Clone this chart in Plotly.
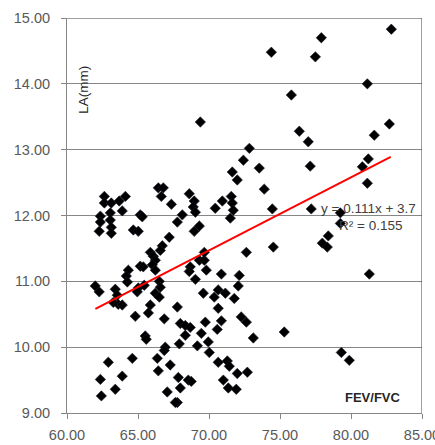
import plotly.graph_objects as go

# FEV/FVC (x) and LA(mm) (y) values
fev_fvc = [
    74.39, 77.91, 77.49, 82.84, 81.15, 75.80, 76.36, 76.99, 82.70, 81.64,
    69.39, 72.84, 72.42, 73.54, 71.64, 71.99, 77.13, 81.22, 80.80, 81.15,
    73.89, 71.57, 71.64, 71.71, 70.94, 70.44, 74.46, 77.20, 79.25, 71.50,
    79.25, 78.40, 77.98, 78.33, 74.53, 72.63, 70.87, 72.13, 81.29, 72.06,
    70.65, 71.15, 71.78, 70.37, 70.65, 72.27, 72.63, 70.87, 70.58, 75.30,
    73.12, 79.32, 79.88, 70.65, 71.29, 71.43, 71.99, 72.70, 71.01, 71.36,
    71.92,
    69.04, 69.60, 67.77, 69.74, 67.98, 68.33, 68.68, 68.33, 69.46, 69.95,
    67.91, 69.18, 70.02, 67.84, 68.54, 68.75, 67.98, 67.77, 69.32, 69.67,
    69.67, 68.68, 68.61, 69.81, 68.96, 69.32, 68.12, 67.77,
    62.63, 62.63, 63.12, 63.68, 64.11, 63.89, 62.35, 62.35, 62.27, 63.05,
    63.05, 63.12, 63.12, 65.16, 65.30, 64.67, 65.02, 66.43, 66.78, 66.64,
    67.35, 67.20, 66.71, 66.57, 65.87, 66.08, 66.22, 66.01, 66.22, 65.16,
    65.37, 64.32, 64.18, 64.25, 68.61, 68.96, 68.89, 69.04,
    61.99, 62.27, 63.40, 63.54, 63.26, 63.61, 63.89, 65.02, 64.95, 65.44,
    66.50, 66.57, 66.22, 66.50, 65.87, 65.73, 64.81, 66.85, 65.51, 65.58,
    66.92, 66.85, 62.91, 64.60, 66.36, 67.27, 66.43, 63.89, 62.35, 63.40,
    62.42, 67.06, 67.63,
]
la_mm = [
    14.48, 14.70, 14.41, 14.83, 14.00, 13.83, 13.28, 13.12, 13.39, 13.22,
    13.42, 13.02, 12.84, 12.72, 12.66, 12.54, 12.75, 12.86, 12.74, 12.49,
    12.40, 12.29, 12.19, 12.08, 12.22, 12.11, 12.10, 12.10, 12.04, 11.96,
    11.88, 11.69, 11.58, 11.52, 11.52, 11.44, 11.11, 11.09, 11.11, 10.93,
    10.87, 10.82, 10.74, 10.76, 10.59, 10.46, 10.38, 10.40, 10.27, 10.23,
    10.14, 9.92, 9.80, 9.77, 9.79, 9.71, 9.60, 9.62, 9.50, 9.38,
    9.36,
    11.03, 10.82, 10.61, 10.38, 10.36, 10.33, 10.30, 10.18, 10.21, 10.08,
    10.05, 10.02, 9.92, 9.54, 9.50, 9.48, 9.38, 9.16, 11.32, 11.32,
    11.44, 11.22, 11.15, 11.17, 11.76, 11.84, 12.01, 11.90,
    12.29, 12.19, 12.19, 12.22, 12.29, 12.07, 11.99, 11.90, 11.76, 12.04,
    11.93, 11.82, 11.73, 12.01, 11.98, 11.78, 11.76, 12.42, 12.42, 12.29,
    12.17, 11.67, 11.54, 11.47, 11.44, 11.38, 11.32, 11.25, 11.17, 11.23,
    11.22, 11.17, 11.08, 10.99, 12.33, 12.22, 12.13, 12.05,
    10.93, 10.84, 10.88, 10.79, 10.68, 10.65, 10.64, 10.90, 10.84, 10.94,
    11.00, 10.91, 10.82, 10.76, 10.64, 10.52, 10.47, 10.43, 10.17, 10.12,
    10.00, 9.95, 9.77, 9.83, 9.83, 9.73, 9.64, 9.56, 9.51, 9.36,
    9.26, 9.32, 9.16,
]

# Linear trendline shown in the reference
trend_slope = 0.111
trend_intercept = 3.7
trend_x = [62.0, 82.8]
trend_y = [trend_slope * v + trend_intercept for v in trend_x]

x_ticks = [60, 65, 70, 75, 80, 85]
y_ticks = [9, 10, 11, 12, 13, 14, 15]

AXIS_GREY = "#868686"
TEXT_GREY = "#595959"
FONT = "Liberation Sans, Arial, sans-serif"

fig = go.Figure()
fig.add_trace(go.Scatter(
    x=fev_fvc, y=la_mm, mode="markers",
    marker=dict(symbol="diamond", size=8, color="#000000",
                line=dict(width=0.6, color="#1a1f2e")),
    showlegend=False, hoverinfo="skip", cliponaxis=False,
))
fig.add_trace(go.Scatter(
    x=trend_x, y=trend_y, mode="lines",
    line=dict(color="#ff0000", width=2),
    showlegend=False, hoverinfo="skip",
))

# dark border on top and right of the plot area
fig.add_shape(type="line", xref="x", yref="y", x0=60, x1=85, y0=15, y1=15,
              line=dict(color="#404040", width=1))
fig.add_shape(type="line", xref="x", yref="y", x0=85, x1=85, y0=9, y1=15,
              line=dict(color="#404040", width=1))

fig.add_annotation(x=81.25, y=12.11, xref="x", yref="y", text="y = 0.111x + 3.7",
                   showarrow=False, xanchor="center", yanchor="middle",
                   font=dict(family=FONT, size=13.5, color="#404040"))
fig.add_annotation(x=81.36, y=11.85, xref="x", yref="y", text="R² = 0.155",
                   showarrow=False, xanchor="center", yanchor="middle",
                   font=dict(family=FONT, size=13.5, color="#404040"))
fig.add_annotation(x=81.54, y=9.23, xref="x", yref="y", text="<b>FEV/FVC</b>",
                   showarrow=False, xanchor="center", yanchor="middle",
                   font=dict(family=FONT, size=13, color="#262626"))
fig.add_annotation(x=61.2, y=13.91, xref="x", yref="y", text="LA(mm)",
                   showarrow=False, xanchor="center", yanchor="middle", textangle=-90,
                   font=dict(family=FONT, size=13.5, color="#262626"))

fig.update_layout(
    width=435, height=445,
    margin=dict(l=67, r=13, t=18, b=32, pad=0, autoexpand=False),
    paper_bgcolor="white", plot_bgcolor="white",
    font=dict(family=FONT, size=14.5, color=TEXT_GREY),
    xaxis=dict(
        range=[60, 85], tickvals=x_ticks, tickformat=".2f",
        showgrid=False, zeroline=False, automargin=False,
        showline=True, linecolor=AXIS_GREY, linewidth=1,
        ticks="outside", ticklen=5, tickcolor=AXIS_GREY,
        ticklabelstandoff=4, ticklabeloverflow="allow",
    ),
    yaxis=dict(
        range=[9, 15], tickvals=y_ticks, tickformat=".2f",
        showgrid=True, gridcolor=AXIS_GREY, gridwidth=1, zeroline=False,
        automargin=False,
        showline=True, linecolor=AXIS_GREY, linewidth=1,
        ticks="outside", ticklen=5, tickcolor=AXIS_GREY,
        ticklabelstandoff=8, ticklabeloverflow="allow",
    ),
)

fig.write_html(
    "out.html",
    config={"displayModeBar": False},
    post_script="document.body.style.margin='0';document.body.style.overflow='hidden';",
)
